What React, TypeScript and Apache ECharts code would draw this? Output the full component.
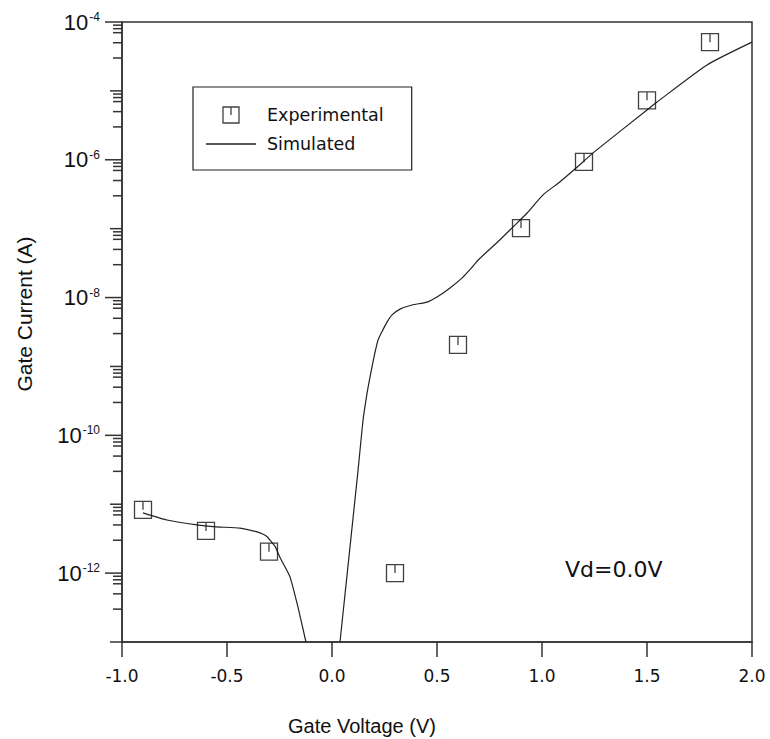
import React, { useEffect, useRef } from 'react';
import * as echarts from 'echarts';

// Experimental points (gate voltage V, gate current A)
const expVoltage = [-0.9, -0.6, -0.3, 0.3, 0.6, 0.9, 1.2, 1.5, 1.8];
const expCurrent = [8.3e-12, 4.1e-12, 2.05e-12, 1.0e-12, 2.05e-9, 1.02e-7, 9.3e-7, 7.3e-6, 5.1e-5];

// Simulated curve: negative branch
const simLeftVoltage = [-0.9, -0.786, -0.643, -0.552, -0.438, -0.36, -0.33, -0.31, -0.295, -0.27, -0.248, -0.225, -0.2, -0.162, -0.124];
const simLeftCurrent = [7.5e-12, 5.9e-12, 5.0e-12, 4.7e-12, 4.5e-12, 4.0e-12, 3.7e-12, 3.4e-12, 3.0e-12, 2.4e-12, 1.7e-12, 1.25e-12, 8.8e-13, 3.2e-13, 1.0e-13];

// Simulated curve: positive branch
const simRightVoltage = [0.038, 0.124, 0.148, 0.167, 0.181, 0.2, 0.219, 0.238, 0.262, 0.286, 0.324, 0.381, 0.452, 0.5, 0.562, 0.62, 0.66, 0.7, 0.8, 0.862, 0.929, 1.005, 1.086, 1.195, 1.243, 1.5, 1.548, 1.786, 2.0];
const simRightCurrent = [1.0e-13, 3.1e-11, 1.67e-10, 4.1e-10, 7.0e-10, 1.37e-9, 2.4e-9, 3.2e-9, 4.4e-9, 5.6e-9, 6.8e-9, 7.8e-9, 8.6e-9, 1.02e-8, 1.38e-8, 1.93e-8, 2.6e-8, 3.6e-8, 6.9e-8, 1.06e-7, 1.69e-7, 3.1e-7, 4.8e-7, 9.3e-7, 1.26e-6, 5.28e-6, 6.9e-6, 2.38e-5, 5.1e-5];

// Axis ticks
const decadeExponents = [-13, -12, -11, -10, -9, -8, -7, -6, -5, -4];
const minorMultipliers = [3, 5, 7, 8, 9];
const xMin = -1.0;
const xMax = 2.0;
const xStep = 0.5;

const seriesNames = ['Experimental', 'Simulated'];
const annotation = 'Vd=0.0V';

export default function App() {
  const ref = useRef<HTMLDivElement>(null);

  useEffect(() => {
    if (!ref.current) return;
    const chart = echarts.init(ref.current, undefined, { renderer: 'svg' });

    const expData = expVoltage.map((v, i) => [v, expCurrent[i]]);
    const simData: any[] = [
      ...simLeftVoltage.map((v, i) => [v, simLeftCurrent[i]]),
      '-',
      ...simRightVoltage.map((v, i) => [v, simRightCurrent[i]]),
    ];

    // tick data: [x, value, kind] kind 0 = labelled decade, 1 = other decade, 2 = minor
    const tickData: number[][] = [];
    decadeExponents.forEach((e) => {
      tickData.push([xMin, Math.pow(10, e), e % 2 === 0 ? 0 : 1]);
      if (e < decadeExponents[decadeExponents.length - 1]) {
        minorMultipliers.forEach((k) => tickData.push([xMin, k * Math.pow(10, e), 2]));
      }
    });

    const markerPath = 'path://M0,0L16,0L16,16L0,16ZM8,0L8,8';
    const lineIcon = 'path://M0,0L50,0L50,1.3L0,1.3Z';

    chart.setOption({
      animation: false,
      backgroundColor: '#ffffff',
      grid: {
        left: 122,
        right: 18,
        top: 22,
        bottom: 97,
        show: true,
        outerBoundsMode: 'none',
        containLabel: false,
        borderColor: '#333',
        borderWidth: 1.5,
        backgroundColor: 'transparent',
      },
      legend: {
        orient: 'vertical',
        left: 193,
        top: 87,
        padding: [19, 28, 17, 13],
        borderColor: '#222',
        borderWidth: 1.2,
        itemWidth: 50,
        itemHeight: 16,
        itemGap: 11,
        selectedMode: false,
        symbolKeepAspect: true,
        data: [
          { name: seriesNames[0], itemStyle: { borderWidth: 1.3, borderColor: '#111', color: 'rgba(0,0,0,0)' } },
          { name: seriesNames[1], icon: lineIcon, itemStyle: { color: '#222', borderWidth: 0 } },
        ],
        textStyle: { fontFamily: 'DejaVu Sans', fontSize: 17.5, color: '#111', padding: [0, 0, 0, 6] },
      },
      xAxis: {
        type: 'value',
        min: xMin,
        max: xMax,
        interval: xStep,
        name: 'Gate Voltage (V)',
        nameLocation: 'middle',
        nameGap: 74,
        nameTextStyle: {
          fontFamily: 'Liberation Sans',
          fontSize: 20,
          color: '#111',
          padding: [0, 150, 0, 0],
        },
        axisLine: { show: true, onZero: false, lineStyle: { color: '#333', width: 1.5 } },
        axisTick: { show: true, inside: false, length: 15, lineStyle: { color: '#333', width: 1.5 } },
        axisLabel: {
          margin: 25,
          fontFamily: 'DejaVu Sans',
          fontSize: 17,
          color: '#111',
          formatter: (v: number) => v.toFixed(1),
        },
        splitLine: { show: false },
      },
      yAxis: {
        type: 'log',
        logBase: 10,
        min: 1e-13,
        max: 1e-4,
        splitNumber: 9,
        name: 'Gate Current (A)',
        nameLocation: 'middle',
        nameGap: 87,
        nameTextStyle: {
          fontFamily: 'Liberation Sans',
          fontSize: 21,
          color: '#111',
          padding: [0, 0, 0, 36],
        },
        axisLine: { show: true, onZero: false, lineStyle: { color: '#333', width: 1.5 } },
        axisTick: { show: false },
        axisLabel: {
          margin: 22,
          color: '#111',
          formatter: (v: number) => {
            const e = Math.round(Math.log10(v));
            if (e % 2 !== 0) return '';
            return `{b|10}{s|${e}}`;
          },
          rich: {
            b: { fontFamily: 'Liberation Sans', fontSize: 22, color: '#111' },
            s: { fontFamily: 'Liberation Sans', fontSize: 12, color: '#111', verticalAlign: 'top', padding: [0, 0, 0, 1] },
          },
        },
        splitLine: { show: false },
      },
      graphic: [
        {
          type: 'text',
          left: 565,
          top: 558,
          style: {
            text: annotation,
            fontFamily: 'DejaVu Sans',
            fontSize: 22,
            fill: '#111',
          },
        },
      ],
      series: [
        {
          name: seriesNames[1],
          type: 'line',
          data: simData,
          symbol: 'none',
          smooth: 0.2,
          connectNulls: false,
          itemStyle: { color: '#222' },
          lineStyle: { color: '#222', width: 1.2 },
          z: 2,
        },
        {
          name: seriesNames[0],
          type: 'scatter',
          data: expData,
          symbol: markerPath,
          symbolSize: 17,
          symbolKeepAspect: true,
          itemStyle: { color: 'rgba(0,0,0,0)', borderColor: '#111', borderWidth: 1.3 },
          z: 3,
        },
        {
          type: 'custom',
          name: 'yticks',
          data: tickData,
          silent: true,
          clip: false,
          encode: { x: 0, y: 1 },
          renderItem: (params: any, api: any) => {
            const p = api.coord([api.value(0), api.value(1)]);
            const kind = api.value(2);
            const len = kind === 0 ? 17 : kind === 1 ? 12 : 9;
            return {
              type: 'line',
              shape: { x1: p[0] - len, y1: p[1], x2: p[0], y2: p[1] },
              style: { stroke: '#333', lineWidth: 1.5 },
            };
          },
          z: 4,
        },
      ],
    });

    return () => chart.dispose();
  }, []);

  return (
    <div
      ref={ref}
      style={{ position: 'absolute', left: 0, top: 0, width: 770, height: 739, background: '#fff' }}
    />
  );
}
